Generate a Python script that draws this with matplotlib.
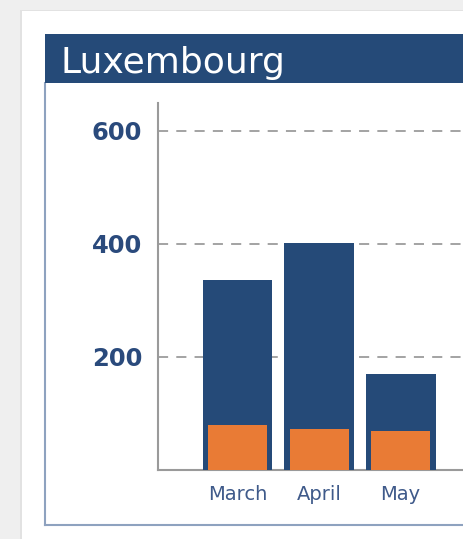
import matplotlib
matplotlib.use("Agg")
import matplotlib.pyplot as plt
from matplotlib.patches import Rectangle
from matplotlib.lines import Line2D

# ---- data ----
months = ["March", "April", "May"]
total_values = [336, 402, 170]
orange_values = [79, 71, 68]
y_ticks = [200, 400, 600]
title = "Luxembourg"

NAVY = "#254a78"
ORANGE = "#e97b35"
W, H = 464, 539

fig = plt.figure(figsize=(W / 100, H / 100), dpi=100)
fig.patch.set_facecolor("#efefef")

def fx(px):
    return px / W

def fy(py):
    return 1 - py / H

# white card with faint shadow
fig.patches.append(Rectangle((fx(20), 0), 1, fy(10), transform=fig.transFigure,
                             facecolor="#e2e2e2", edgecolor="none", zorder=-3))
fig.patches.append(Rectangle((fx(22), 0), 1, fy(11), transform=fig.transFigure,
                             facecolor="white", edgecolor="none", zorder=-2))
# header band
fig.patches.append(Rectangle((fx(45), fy(83)), 1, (83 - 34) / H, transform=fig.transFigure,
                             facecolor=NAVY, edgecolor="none", zorder=-1))
fig.text(fx(60), fy(72.5), title, color="white", fontsize=26, va="baseline", ha="left",
         family="DejaVu Sans")
# panel border (left and bottom)
border = "#8ea2bf"
fig.lines.append(Line2D([fx(45), fx(45)], [fy(83), fy(525)], transform=fig.transFigure,
                        color=border, lw=1.5, zorder=-1))
fig.lines.append(Line2D([fx(45), 1.0], [fy(525), fy(525)], transform=fig.transFigure,
                        color=border, lw=1.5, zorder=-1))

ax = fig.add_axes([fx(158), fy(469.5), 1 - fx(158), (469.5 - 102.7) / H])
ax.set_zorder(5)
ax.set_facecolor("none")
x = list(range(len(months)))
ax.bar(x, total_values, width=0.857, color=NAVY, zorder=3)
ax.bar(x, orange_values, width=0.723, color=ORANGE, zorder=4)

ax.set_xlim(-0.974, 2.776)
ax.set_ylim(0, 650)
ax.set_yticks(y_ticks)
ax.set_yticklabels([str(v) for v in y_ticks])
ax.set_xticks(x)
ax.set_xticklabels(months)

for v in y_ticks:
    ax.axhline(v, color="#a3a3a3", lw=1.4, linestyle=(0, (5.2, 4.2)), zorder=1)

for s in ["top", "right"]:
    ax.spines[s].set_visible(False)
for s in ["left", "bottom"]:
    ax.spines[s].set_color("#9a9a9a")
    ax.spines[s].set_linewidth(1.5)

ax.tick_params(axis="y", length=0, pad=11.5, labelsize=17.5, labelcolor="#2a4a7c")
ax.tick_params(axis="x", length=0, pad=11, labelsize=14, labelcolor="#3f5a8a")
for lbl in ax.get_yticklabels():
    lbl.set_fontweight("bold")

fig.savefig("out.png", dpi=100, facecolor=fig.get_facecolor())
